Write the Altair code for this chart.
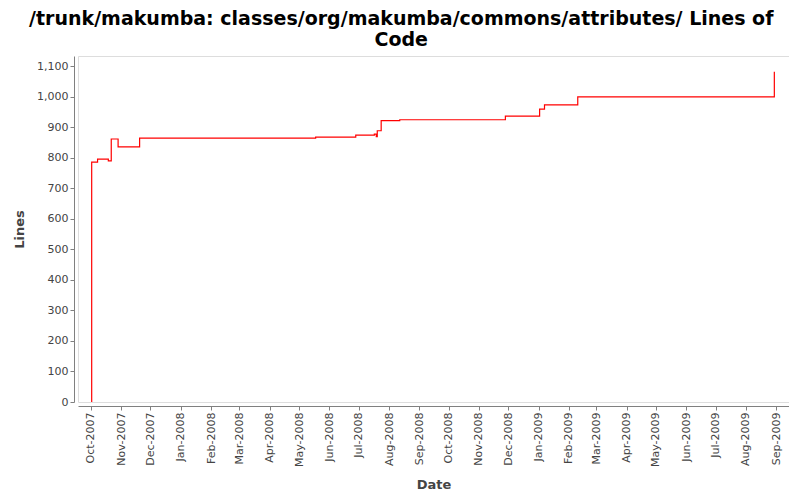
import altair as alt
import pandas as pd

dates = [
    "2007-10-02", "2007-10-02", "2007-10-08", "2007-10-19", "2007-10-22",
    "2007-10-29", "2007-11-20", "2008-05-18", "2008-06-28", "2008-07-17",
    "2008-07-19", "2008-07-20", "2008-07-24", "2008-08-12", "2008-11-28",
    "2009-01-02", "2009-01-07", "2009-02-10", "2009-08-30",
]
lines = [
    0, 786, 796, 790, 862,
    836, 865, 868, 875, 878,
    870, 889, 922, 925, 937,
    960, 974, 1000, 1082,
]
month_ticks = [
    "2007-10-01", "2007-11-01", "2007-12-01", "2008-01-01", "2008-02-01",
    "2008-03-01", "2008-04-01", "2008-05-01", "2008-06-01", "2008-07-01",
    "2008-08-01", "2008-09-01", "2008-10-01", "2008-11-01", "2008-12-01",
    "2009-01-01", "2009-02-01", "2009-03-01", "2009-04-01", "2009-05-01",
    "2009-06-01", "2009-07-01", "2009-08-01", "2009-09-01",
]
y_ticks = [0, 100, 200, 300, 400, 500, 600, 700, 800, 900, 1000, 1100]

df = pd.DataFrame({"date": pd.to_datetime(dates), "lines": lines})
tick_vals = [alt.DateTime(year=int(d[:4]), month=int(d[5:7]), date=1) for d in month_ticks]

FONT = "DejaVu Sans"

chart = (
    alt.Chart(df)
    .mark_line(color="#ff0000", interpolate="step-after", strokeWidth=1.2)
    .encode(
        x=alt.X(
            "date:T",
            title="Date",
            scale=alt.Scale(domain=[alt.DateTime(year=2007, month=9, date=18),
                                    alt.DateTime(year=2009, month=9, date=14)]),
            axis=alt.Axis(
                values=tick_vals,
                format="%b-%Y",
                labelAngle=270,
                labelAlign="right",
                labelBaseline="middle",
                offset=4,
                grid=False,
                labelFontSize=11,
                labelColor="#444444",
                domainColor="#808080",
                tickColor="#808080",
                tickSize=4,
                labelPadding=2,
                titleFontSize=13,
                titleFontWeight="bold",
                titleColor="#444444",
                titlePadding=12,
                labelFont=FONT,
                titleFont=FONT,
            ),
        ),
        y=alt.Y(
            "lines:Q",
            title="Lines",
            scale=alt.Scale(domain=[0, 1134], nice=False),
            axis=alt.Axis(
                values=y_ticks,
                format=",.0f",
                offset=4,
                grid=False,
                labelFontSize=11,
                labelColor="#444444",
                domainColor="#808080",
                tickColor="#808080",
                tickSize=4,
                labelPadding=2,
                titleFontSize=13,
                titleFontWeight="bold",
                titleColor="#444444",
                titlePadding=10,
                labelFont=FONT,
                titleFont=FONT,
            ),
        ),
    )
    .properties(
        width=711,
        height=346,
        title=alt.TitleParams(
            text=["/trunk/makumba: classes/org/makumba/commons/attributes/ Lines of", "Code"],
            font=FONT,
            fontSize=19,
            fontWeight="bold",
            color="#000000",
            anchor="middle",
            frame="bounds",
            offset=6,
            lineHeight=21,
        ),
        padding={"left": 5, "top": 2, "right": 0, "bottom": 0},
    )
    .configure_view(stroke="#808080", strokeWidth=1)
    .configure(background="white")
)

chart.save("out.html", embed_options={"renderer": "svg", "actions": False})
